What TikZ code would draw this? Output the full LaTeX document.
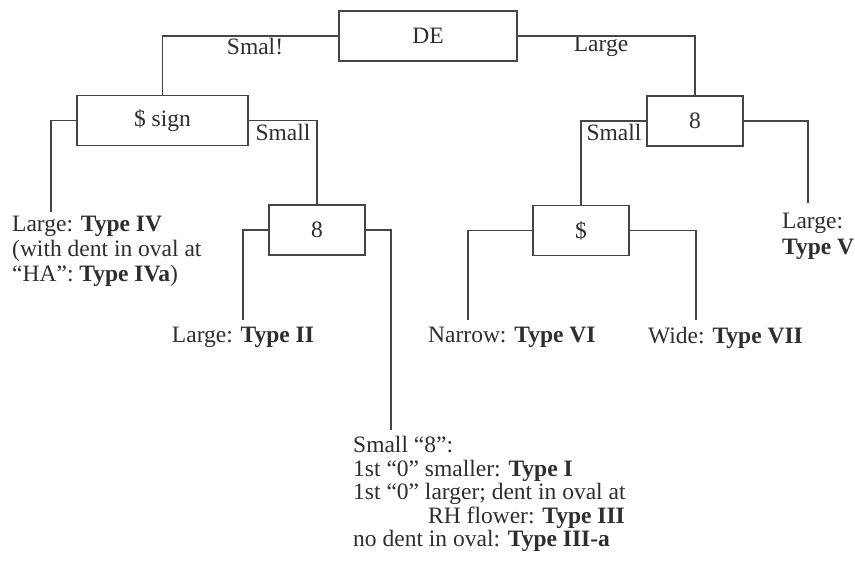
\documentclass[tikz,border=0pt]{standalone}
\usepackage{fontspec}
\setmainfont{Liberation Serif}
\usepackage{tikz}
\usetikzlibrary{positioning}
\definecolor{cInk}{HTML}{2E2E2E}
\definecolor{cLine}{HTML}{454545}

\begin{document}
\begin{tikzpicture}[
  x=1pt,y=-1pt,
  font=\fontsize{23.5}{25}\selectfont,
  text=cInk,
  box/.style={draw=cLine,line width=1.1pt,minimum height=50pt,inner sep=0pt},
  leaf/.style={inner sep=0pt,align=left},
  lbl/.style={inner sep=0pt},
  ln/.style={cLine,line width=1.1pt}
]
\fill[white] (0,0) rectangle (855,571);
\useasboundingbox (0,0) rectangle (855,571);
% --- decision boxes ---
\node[box,minimum width=178pt] (de) at (428,36) {DE};
\node[box,minimum width=171pt] (sign) at (162.5,120.5) {\$ sign};
\node[box,minimum width=96pt] (eightR) at (695,121) {8};
\node[box,minimum width=96pt] (eightM) at (317,230) {8};
\node[box,minimum width=96pt] (dollar) at (581,230.5) {\$};
% --- branch labels ---
\node[lbl] (lSmalTop) at (255,47) {Smal!};
\node[lbl] (lLargeTop) at (601,46) {Large};
\node[lbl] (lSmallL) at (283,132) {Small};
\node[lbl] (lSmallR) at (614,132) {Small};
% --- leaf ends ---
\coordinate (eIV) at (51,212);
\coordinate (eII) at (243,320);
\coordinate (eI) at (391,430);
\coordinate (eV) at (808,203);
\coordinate (eVI) at (468,320);
\coordinate (eVII) at (696,320);
\node[leaf,anchor=north west,font=\fontsize{23.5}{25}\selectfont] (typeIV) at (12,216)
  {Large: \textbf{Type IV}\\(with dent in oval at\\``HA'': \textbf{Type IVa})};
\node[leaf,anchor=north] (typeII) at (243,327) {Large: \textbf{Type II}};
\node[leaf,anchor=north west,font=\fontsize{23.5}{23.5}\selectfont] (typeI) at (353,436)
  {Small ``8'':\\1st ``0'' smaller: \textbf{Type I}\\1st ``0'' larger; dent in oval at\\
   \hspace*{75pt}RH flower: \textbf{Type III}\\no dent in oval: \textbf{Type III-a}};
\node[leaf,anchor=north west,font=\fontsize{23.5}{26}\selectfont] (typeV) at (782,213)
  {Large:\\\textbf{Type V}};
\node[leaf,anchor=north west] (typeVI) at (428,327) {Narrow: \textbf{Type VI}};
\node[leaf,anchor=north west] (typeVII) at (648,327) {Wide: \textbf{Type VII}};

\draw[ln] (de.west) -| (sign.north);
\draw[ln] (de.east) -| (eightR.north);
\draw[ln] (sign.east) -| (eightM.north);
\draw[ln] (sign.west) -| (eIV);
\draw[ln] (eightR.west) -| (dollar.north);
\draw[ln] (eightR.east) -| (eV);
\draw[ln] (eightM.west) -| (eII);
\draw[ln] (eightM.east) -| (eI);
\draw[ln] (dollar.west) -| (eVI);
\draw[ln] (dollar.east) -| (eVII);
\end{tikzpicture}
\end{document}
